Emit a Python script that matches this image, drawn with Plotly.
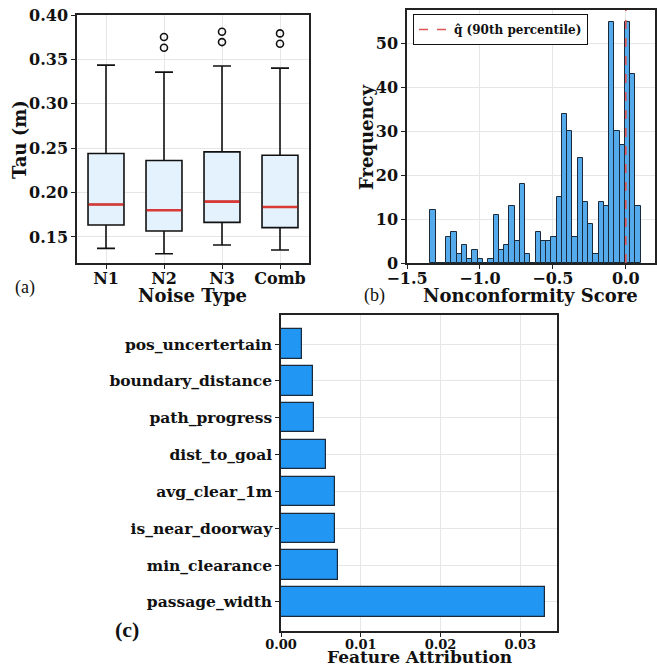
import numpy as np
import plotly.graph_objects as go

# ---------------- data ----------------
# (a) Tau box plots
noise_types = ["N1", "N2", "N3", "Comb"]
tau_lowerfence = [0.1372, 0.1312, 0.1410, 0.1353]
tau_q1 = [0.1635, 0.1568, 0.1665, 0.1605]
tau_median = [0.1865, 0.1801, 0.1898, 0.1838]
tau_q3 = [0.2440, 0.2361, 0.2459, 0.2421]
tau_upperfence = [0.3436, 0.3357, 0.3425, 0.3402]
outlier_group = ["N2", "N2", "N3", "N3", "Comb", "Comb"]
outlier_values = [0.3752, 0.3632, 0.3812, 0.3695, 0.3793, 0.3677]

# (b) histogram of nonconformity scores (40 bins)
score_min = -1.339
score_max = 0.1007
hist_counts = [12, 0, 0, 6, 7, 2, 4, 1, 3, 1,
               0, 1, 11, 3, 4, 13, 5, 18, 2, 0,
               7, 5, 5, 6, 15, 34, 30, 6, 24, 14,
               9, 2, 14, 13, 55, 30, 27, 55, 43, 13]
q_hat = 0.0

# (c) feature attribution
features = ["passage_width", "min_clearance", "is_near_doorway", "avg_clear_1m",
            "dist_to_goal", "path_progress", "boundary_distance", "pos_uncertertain"]
attribution = [0.0331, 0.0072, 0.0068, 0.0068, 0.0057, 0.0041, 0.0040, 0.0026]

# ---------------- styling ----------------
W, H = 657, 667
FONT = "DejaVu Serif"
INK = "#111111"
SPINE = "#222222"
GRID = "#e6e6e6"


def px_dom_x(a, b):
    return [a / W, b / W]


def px_dom_y(top, bottom):
    return [1 - bottom / H, 1 - top / H]


fig = go.Figure()

# ---- (a) boxes ----
pos = list(range(1, len(noise_types) + 1))
box_w = 0.62
fig.add_trace(go.Box(
    x=pos, q1=tau_q1, median=tau_median, q3=tau_q3,
    lowerfence=tau_lowerfence, upperfence=tau_upperfence,
    width=box_w, whiskerwidth=0.5,
    fillcolor="#e3f2fd", line=dict(color="#111111", width=1.6),
    boxpoints=False, showlegend=False, hoverinfo="skip",
    xaxis="x", yaxis="y"))
# red medians
mx, my = [], []
for p, m in zip(pos, tau_median):
    mx += [p - box_w / 2 + 0.01, p + box_w / 2 - 0.01, None]
    my += [m, m, None]
fig.add_trace(go.Scatter(x=mx, y=my, mode="lines",
                         line=dict(color="#d93a36", width=2.6),
                         showlegend=False, hoverinfo="skip", xaxis="x", yaxis="y"))
# outliers
ox = [pos[noise_types.index(g)] for g in outlier_group]
fig.add_trace(go.Scatter(x=ox, y=outlier_values, mode="markers",
                         marker=dict(symbol="circle-open", size=7, color="#111111",
                                     line=dict(width=1.6)),
                         showlegend=False, hoverinfo="skip", xaxis="x", yaxis="y"))

# ---- (b) histogram ----
nb = len(hist_counts)
edges = np.linspace(score_min, score_max, nb + 1)
centers = (edges[:-1] + edges[1:]) / 2
bw = edges[1] - edges[0]
fig.add_trace(go.Bar(x=centers, y=hist_counts, width=bw,
                     marker=dict(color="#55aaec", line=dict(color="#1b2a3a", width=1)),
                     showlegend=False, hoverinfo="skip", xaxis="x2", yaxis="y2"))
fig.add_trace(go.Scatter(x=[q_hat, q_hat], y=[0, 60], mode="lines",
                         line=dict(color="#e05555", width=1.6, dash="dash"),
                         name="q̂ (90th percentile)", showlegend=True,
                         hoverinfo="skip", xaxis="x2", yaxis="y2"))

# ---- (c) feature attribution ----
fig.add_trace(go.Bar(x=attribution, y=features, orientation="h", width=0.8,
                     marker=dict(color="#2196f3", line=dict(color="#1b2a3a", width=1.2)),
                     showlegend=False, hoverinfo="skip", xaxis="x3", yaxis="y3"))

tickfont = dict(family=FONT, size=16, color=INK, weight="bold")
common = dict(showline=True, mirror=True, linecolor=SPINE, linewidth=1.5,
              ticks="outside", ticklen=4, tickwidth=1.2, tickcolor=SPINE,
              showgrid=True, gridcolor=GRID, gridwidth=1, zeroline=False,
              tickfont=tickfont, automargin=False)

fig.update_layout(
    width=W, height=H, margin=dict(l=0, r=0, t=0, b=0, autoexpand=False),
    paper_bgcolor="white", plot_bgcolor="white",
    font=dict(family=FONT, color=INK),
    bargap=0,
    xaxis=dict(domain=px_dom_x(77, 309), range=[0.5, 4.5], tickvals=pos,
               ticktext=noise_types, anchor="y", ticklabelstandoff=-4, **common),
    yaxis=dict(domain=px_dom_y(15, 263), range=[0.1207, 0.400],
               tickvals=[0.15, 0.20, 0.25, 0.30, 0.35, 0.40], tickformat=".2f",
               anchor="x", **common),
    xaxis2=dict(domain=px_dom_x(407, 655), range=[-1.5, 0.2],
                tickvals=[-1.5, -1.0, -0.5, 0.0], tickformat=".1f",
                anchor="y2", ticklabelstandoff=-4, **common),
    yaxis2=dict(domain=px_dom_y(10, 263), range=[0, 57.7],
                tickvals=[0, 10, 20, 30, 40, 50], anchor="x2", **common),
    xaxis3=dict(domain=px_dom_x(281, 557), range=[0, 0.0346],
                tickvals=[0.0, 0.01, 0.02, 0.03], tickformat=".2f",
                anchor="y3", ticklabelstandoff=-3,
                **{**common, "tickfont": dict(family=FONT, size=13, color=INK, weight="bold")}),
    yaxis3=dict(domain=px_dom_y(315, 631), range=[-0.79, 7.79],
                categoryorder="array", categoryarray=features, anchor="x3",
                **{**common, "tickfont": dict(family=FONT, size=15.5, color=INK, weight="bold")}),
    legend=dict(x=413 / W, y=1 - 14 / H, xanchor="left", yanchor="top",
                bgcolor="white", bordercolor="#111111", borderwidth=1,
                font=dict(family=FONT, size=12, color=INK, weight="bold"),
                itemwidth=30, tracegroupgap=0),
)

title_font = dict(family=FONT, size=18, color=INK, weight="bold")
anns = [
    dict(text="Tau (m)", x=20 / W, y=1 - 140 / H, textangle=-90),
    dict(text="Noise Type", x=192 / W, y=1 - 295 / H),
    dict(text="Frequency", x=366 / W, y=1 - 137 / H, textangle=-90),
    dict(text="Nonconformity Score", x=530 / W, y=1 - 295 / H),
    dict(text="Feature Attribution", x=419 / W, y=1 - 657 / H, size=17),
]
for a in anns:
    f = dict(title_font)
    if "size" in a:
        f["size"] = a.pop("size")
    fig.add_annotation(xref="paper", yref="paper", showarrow=False,
                       xanchor="center", yanchor="middle", font=f, **a)

label_font = dict(family="Liberation Serif", size=18, color=INK)
fig.add_annotation(text="(a)", x=13 / W, y=1 - 287 / H, xref="paper", yref="paper",
                   xanchor="left", showarrow=False, font=label_font)
fig.add_annotation(text="(b)", x=362 / W, y=1 - 295 / H, xref="paper", yref="paper",
                   xanchor="left", showarrow=False, font=label_font)
fig.add_annotation(text="(c)", x=113 / W, y=1 - 644 / H, xref="paper", yref="paper",
                   xanchor="left", showarrow=False,
                   font=dict(family="Liberation Serif", size=22, color=INK, weight="bold"))

fig.write_html("out.html", config={"displayModeBar": False},
               post_script="document.body.style.margin='0';document.body.style.overflow='hidden';")
